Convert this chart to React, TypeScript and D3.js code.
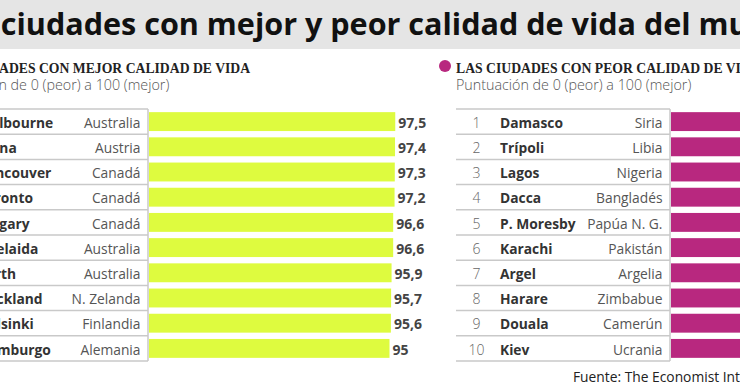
import React from "react";
import * as d3 from "d3";

const TITLE = "Las ciudades con mejor y peor calidad de vida del mundo";
const SUBTITLE = "Puntuación de 0 (peor) a 100 (mejor)";
const SOURCE = "Fuente: The Economist Intelligence Unit";

const bestHeading = "LAS CIUDADES CON MEJOR CALIDAD DE VIDA";
const bestCities = ["Melbourne", "Viena", "Vancouver", "Toronto", "Calgary", "Adelaida", "Perth", "Auckland", "Helsinki", "Hamburgo"];
const bestCountries = ["Australia", "Austria", "Canadá", "Canadá", "Canadá", "Australia", "Australia", "N. Zelanda", "Finlandia", "Alemania"];
const bestValues = [97.5, 97.4, 97.3, 97.2, 96.6, 96.6, 95.9, 95.7, 95.6, 95];

const worstHeading = "LAS CIUDADES CON PEOR CALIDAD DE VIDA";
const worstCities = ["Damasco", "Trípoli", "Lagos", "Dacca", "P. Moresby", "Karachi", "Argel", "Harare", "Douala", "Kiev"];
const worstCountries = ["Siria", "Libia", "Nigeria", "Bangladés", "Papúa N. G.", "Pakistán", "Argelia", "Zimbabue", "Camerún", "Ucrania"];
const worstValues = [30.2, 35.9, 36, 38.7, 38.9, 40.9, 40.9, 42, 43.3, 44.5];

const ranks = d3.range(1, 11);

const W = 740;
const H = 389;
const TABLE_TOP = 109;
const TABLE_BOTTOM = 361;
const TABLE_W = 214;
const SANS = "'Open Sans', sans-serif";

const fmt = (v: number) => String(v).replace(".", ",");

function Panel({ x0, heading, cities, countries, values, color }: {
  x0: number; heading: string; cities: string[]; countries: string[]; values: number[]; color: string;
}) {
  const rows = d3.scaleBand<number>().domain(ranks).range([TABLE_TOP, TABLE_BOTTOM]).padding(0);
  const bars = d3.scaleBand<number>().domain(ranks).range([TABLE_TOP, TABLE_BOTTOM]).paddingInner(0.25).paddingOuter(0.125);
  const x = d3.scaleLinear().domain([0, 100]).range([x0 + 237, x0 + 467]);
  const barStart = x0 + TABLE_W + 1;
  const lineColor = "#c9c9c9";
  return (
    <g>
      <circle cx={x0 - 11} cy={66} r={6} fill={color} />
      <text x={x0} y={72.7} fontFamily="'Liberation Serif', serif" fontWeight={700} fontSize={13.7} fill="#222">{heading}</text>
      <text x={x0} y={90} fontFamily={SANS} fontWeight={300} fontSize={14.3} fill="#555">{SUBTITLE}</text>
      {ranks.map((r, i) => {
        const top = rows(r)!;
        const base = top + 18.8;
        return (
          <g key={r}>
            <rect x={barStart} y={bars(r)!} width={Math.max(0, x(values[i]) - barStart)} height={bars.bandwidth()} fill={color} />
            <text x={x(values[i]) + 3} y={base} fontFamily={SANS} fontWeight={700} fontSize={14} fill="#444">{fmt(values[i])}</text>
            <text x={x0 + 20.5} y={base} textAnchor="middle" fontFamily={SANS} fontWeight={300} fontSize={14} fill="#666">{r}</text>
            <text x={x0 + 44} y={base} fontFamily={SANS} fontWeight={700} fontSize={13.8} fill="#333">{cities[i]}</text>
            <text x={x0 + 206.5} y={base} textAnchor="end" fontFamily={SANS} fontWeight={400} fontSize={13.8} fill="#555">{countries[i]}</text>
          </g>
        );
      })}
      {d3.range(0, 11).map((k) => {
        const yy = TABLE_TOP + k * rows.step();
        return <line key={k} x1={x0} x2={x0 + TABLE_W} y1={yy} y2={yy} stroke={lineColor} strokeWidth={1.5} />;
      })}
      <line x1={x0 + TABLE_W} x2={x0 + TABLE_W} y1={TABLE_TOP} y2={TABLE_BOTTOM} stroke={lineColor} strokeWidth={1.5} />
    </g>
  );
}

export default function App() {
  return (
    <svg width={W} height={H} style={{ position: "absolute", left: 0, top: 0, background: "#fff" }}>
      <rect x={0} y={0} width={W} height={49} fill="#e5e5e5" />
      <text x={-58} y={35} fontFamily={SANS} fontWeight={700} fontSize={30} fill="#111" textLength={865} lengthAdjust="spacingAndGlyphs">{TITLE}</text>
      <Panel x0={-66} heading={bestHeading} cities={bestCities} countries={bestCountries} values={bestValues} color="#defb3f" />
      <Panel x0={456} heading={worstHeading} cities={worstCities} countries={worstCountries} values={worstValues} color="#b8287f" />
      <text x={573} y={381.5} fontFamily={SANS} fontSize={13.8} fill="#222">{SOURCE}</text>
    </svg>
  );
}
